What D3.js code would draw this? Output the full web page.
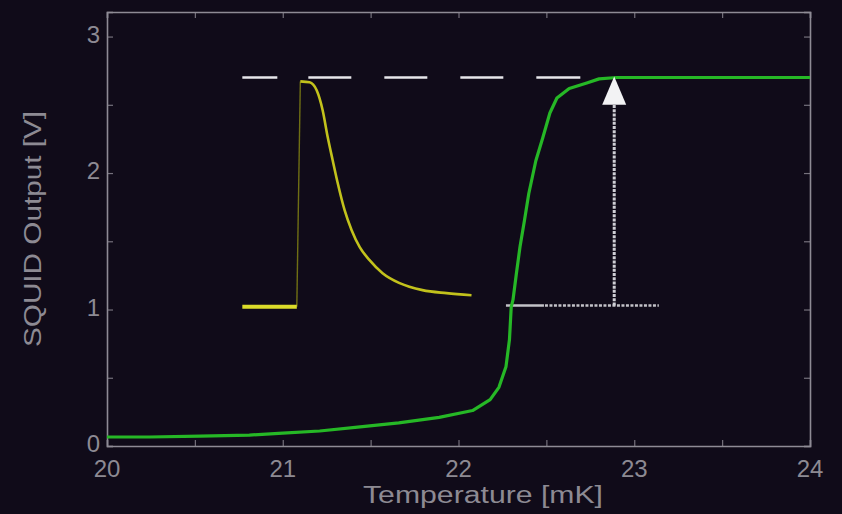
<!DOCTYPE html>
<html>
<head>
<meta charset="utf-8">
<script src="https://cdn.jsdelivr.net/npm/d3@7"></script>
<style>
  html, body { margin: 0; padding: 0; background: #100b19; }
  svg { display: block; }
  text { font-family: "Liberation Sans", Arial, sans-serif; fill: #8d8a93; }
</style>
</head>
<body>
<svg id="chart" width="842" height="514"></svg>
<script>
// Axis ticks
const xTickValues = [20, 21, 22, 23, 24];
const yTickValues = [0, 1, 2, 3];

// SQUID output across the superconducting transition (temperature in mK, volts)
const transitionTemp = [20.00, 20.24, 20.53, 20.81, 21.00, 21.21, 21.44, 21.66, 21.89, 22.08, 22.18, 22.23, 22.27, 22.29, 22.30, 22.31, 22.33, 22.35, 22.375, 22.40, 22.44, 22.48, 22.52, 22.56, 22.63, 22.73, 22.80, 22.90, 24.00];
const transitionVolt = [0.066, 0.066, 0.073, 0.080, 0.095, 0.110, 0.140, 0.170, 0.210, 0.260, 0.340, 0.430, 0.580, 0.780, 1.020, 1.070, 1.270, 1.460, 1.650, 1.850, 2.090, 2.260, 2.440, 2.550, 2.620, 2.660, 2.690, 2.700, 2.700];

// Pulse trace: flat baseline, fast rise, slow decay
const baselineTemp = [20.77, 21.08];
const baselineVolt = [1.02, 1.02];
const riseTemp = [21.08, 21.10];
const riseVolt = [1.02, 2.67];
const decayTemp = [21.10, 21.153, 21.193, 21.227, 21.256, 21.284, 21.313, 21.352, 21.392, 21.438, 21.494, 21.568, 21.665, 21.795, 21.932, 22.074];
const decayVolt = [2.672, 2.665, 2.606, 2.460, 2.262, 2.094, 1.925, 1.728, 1.581, 1.457, 1.362, 1.266, 1.193, 1.142, 1.120, 1.105];

// Reference levels and the arrow between them
const peakLevel = [2.70];
const peakLevelSpan = [20.77, 22.70];
const workingLevel = [1.03];
const workingLevelSpan = [22.27, 23.14];
const arrowTemp = [22.886];

const svg = d3.select("#chart");
const W = 842, H = 514;
const margin = { left: 107, right: W - 810, top: 12, bottom: H - 446 };

const x = d3.scaleLinear().domain([20, 24]).range([margin.left, W - margin.right]);
const y = d3.scaleLinear().domain([0, 3.18]).range([H - margin.bottom, margin.top]);

svg.append("rect").attr("width", W).attr("height", H).attr("fill", "#100b19");

const axisColor = "#8e8b95";

// Frame with inward ticks on all four sides
const minorX = d3.range(20, 24.01, 0.5);
const minorY = d3.range(0, 3.01, 0.5);
const frame = svg.append("g");

const bottomAxis = d3.axisBottom(x).tickValues(minorX).tickSize(-6).tickFormat("");
const topAxis = d3.axisTop(x).tickValues(minorX).tickSize(-6).tickFormat("");
const leftAxis = d3.axisLeft(y).tickValues(minorY).tickSize(-6).tickFormat("");
const rightAxis = d3.axisRight(y).tickValues(minorY).tickSize(-6).tickFormat("");

frame.append("g").attr("transform", `translate(0,${y(0)})`).call(bottomAxis);
frame.append("g").attr("transform", `translate(0,${y(3.18)})`).call(topAxis);
frame.append("g").attr("transform", `translate(${x(20)},0)`).call(leftAxis);
frame.append("g").attr("transform", `translate(${x(24)},0)`).call(rightAxis);
frame.selectAll(".domain").attr("stroke", axisColor).attr("stroke-width", 1.6);
frame.selectAll(".tick line").attr("stroke", axisColor).attr("stroke-width", 1.2).attr("opacity", 0.8);

// Tick labels
svg.append("g").selectAll("text.xt").data(xTickValues).join("text")
  .attr("x", d => x(d)).attr("y", 477)
  .attr("text-anchor", "middle").attr("font-size", 24)
  .text(d => d);
svg.append("g").selectAll("text.yt").data(yTickValues).join("text")
  .attr("x", 100).attr("y", d => y(d) + 6)
  .attr("text-anchor", "end").attr("font-size", 24)
  .text(d => d);

// Axis titles
svg.append("text")
  .attr("x", 483).attr("y", 503)
  .attr("text-anchor", "middle").attr("font-size", 23)
  .attr("textLength", 240).attr("lengthAdjust", "spacingAndGlyphs")
  .text("Temperature [mK]");
svg.append("text")
  .attr("transform", "translate(41,229) rotate(-90)")
  .attr("text-anchor", "middle").attr("font-size", 23)
  .attr("textLength", 236).attr("lengthAdjust", "spacingAndGlyphs")
  .text("SQUID Output [V]");

const line = d3.line().x(d => x(d[0])).y(d => y(d[1]));
const smoothLine = d3.line().x(d => x(d[0])).y(d => y(d[1])).curve(d3.curveMonotoneX);
const zipPts = (a, b) => a.map((v, i) => [v, b[i]]);

// Dashed peak level
svg.append("path")
  .datum(peakLevelSpan.map(t => [t, peakLevel[0]]))
  .attr("d", line)
  .attr("stroke", "#e6e6ea").attr("stroke-width", 2.6)
  .attr("stroke-dasharray", "35 31 43 33 43 33 43 33 44 33")
  .attr("fill", "none");

// Dotted working level: solid near the transition, finely dotted beyond
const dots = Array(60).fill("3 1.5").join(" ");
svg.append("path")
  .datum(workingLevelSpan.map(t => [t, workingLevel[0]]))
  .attr("d", line)
  .attr("stroke", "#d6d6da").attr("stroke-width", 2.6)
  .attr("stroke-dasharray", "38 1 " + dots)
  .attr("opacity", 0.9)
  .attr("fill", "none");

// Pulse trace
svg.append("path").datum(zipPts(riseTemp, riseVolt)).attr("d", line)
  .attr("stroke", "#6f6f14").attr("stroke-width", 1.4).attr("fill", "none");
svg.append("path").datum(zipPts(baselineTemp, baselineVolt)).attr("d", line)
  .attr("stroke", "#dcdc2a").attr("stroke-width", 4).attr("fill", "none");
svg.append("path").datum(zipPts(decayTemp, decayVolt)).attr("d", smoothLine)
  .attr("stroke", "#c2c21c").attr("stroke-width", 2.6).attr("fill", "none");

// Transition curve
svg.append("path").datum(zipPts(transitionTemp, transitionVolt)).attr("d", line)
  .attr("stroke", "#26b826").attr("stroke-width", 3.2).attr("fill", "none")
  .attr("stroke-linejoin", "round");

// Arrow from working level up to peak level
const ax = x(arrowTemp[0]);
svg.append("line")
  .attr("x1", ax).attr("x2", ax)
  .attr("y1", y(workingLevel[0])).attr("y2", y(2.50))
  .attr("stroke", "#cfcfd5").attr("stroke-width", 3)
  .attr("stroke-dasharray", "3 1.2");
svg.append("path")
  .attr("d", `M${ax},${y(peakLevel[0]) - 1} L${ax - 12},${y(2.50)} L${ax + 12},${y(2.50)} Z`)
  .attr("fill", "#f2f2f4");
</script>
</body>
</html>
